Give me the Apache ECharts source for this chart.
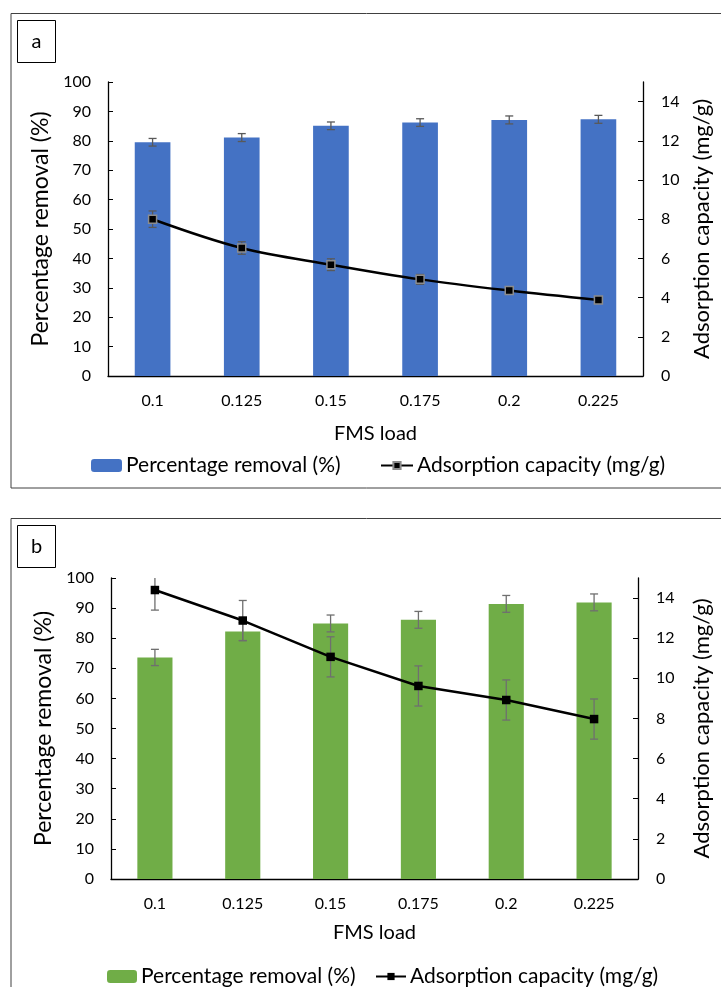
<!DOCTYPE html>
<html>
<head>
<meta charset="utf-8">
<script src="https://cdn.jsdelivr.net/npm/echarts@6/dist/echarts.min.js"></script>
<style>
  html, body { margin: 0; padding: 0; background: #fff; }
  #main { width: 721px; height: 987px; }
</style>
</head>
<body>
<div id="main"></div>
<script>
// FMS load categories
const categories = ['0.1', '0.125', '0.15', '0.175', '0.2', '0.225'];

// panel a
const removalA = [79.5, 81.1, 85.1, 86.2, 87.1, 87.3];
const removalErrA = [1.3, 1.35, 1.3, 1.3, 1.35, 1.35];
const capacityA = [8.0, 6.53, 5.68, 4.93, 4.36, 3.88];
const capacityErrA = [0.42, 0.32, 0.3, 0.25, 0.16, 0.12];

// panel b
const removalB = [73.6, 82.2, 84.9, 86.1, 91.4, 91.9];
const removalErrB = [2.7, 3.0, 2.8, 2.8, 2.8, 2.8];
const capacityB = [14.4, 12.88, 11.07, 9.62, 8.92, 7.97];
const capacityErrB = [1.0, 1.0, 1.0, 1.0, 1.0, 1.0];

const leftTicks = [0, 10, 20, 30, 40, 50, 60, 70, 80, 90, 100];
const rightTicks = [0, 2, 4, 6, 8, 10, 12, 14];

const FONT = 'Lato';
const names = {
  barA: 'Percentage removal (%)', lineA: 'Adsorption capacity (mg/g)',
  barB: 'Percentage removal (%)', lineB: 'Adsorption capacity (mg/g)'
};

function errData(vals, errs) {
  return vals.map((v, i) => [i, v - errs[i], v + errs[i]]);
}

function errRender(color) {
  return function (params, api) {
    const i = api.value(0);
    const lo = api.coord([i, api.value(1)]);
    const hi = api.coord([i, api.value(2)]);
    const w = 4;
    const st = { stroke: color, lineWidth: 1.3 };
    return {
      type: 'group',
      children: [
        { type: 'line', shape: { x1: hi[0], y1: hi[1], x2: lo[0], y2: lo[1] }, style: st },
        { type: 'line', shape: { x1: hi[0] - w, y1: hi[1], x2: hi[0] + w, y2: hi[1] }, style: st },
        { type: 'line', shape: { x1: lo[0] - w, y1: lo[1], x2: lo[0] + w, y2: lo[1] }, style: st }
      ]
    };
  };
}

function xAxisFor(gi, gap) {
  return {
    type: 'category', gridIndex: gi, data: categories,
    name: 'FMS load', nameLocation: 'middle', nameGap: gap,
    nameTextStyle: { fontFamily: FONT, fontSize: 20, color: '#000' },
    axisLine: { lineStyle: { color: '#000', width: 1.3 } },
    axisTick: { inside: true, length: 5, alignWithLabel: true, lineStyle: { color: '#000' } },
    axisLabel: { fontFamily: FONT, fontSize: 16, color: '#000', margin: 17 }
  };
}

function leftAxis(gi, gap) {
  return {
    type: 'value', gridIndex: gi, min: 0, max: 100, interval: 10,
    name: 'Percentage removal (%)', nameLocation: 'middle', nameGap: gap, nameRotate: 90,
    nameTextStyle: { fontFamily: FONT, fontSize: 23, color: '#000' },
    axisLine: { show: true, lineStyle: { color: '#000', width: 1.3 } },
    axisTick: { show: true, inside: true, length: 5, customValues: leftTicks, lineStyle: { color: '#000' } },
    axisLabel: { fontFamily: FONT, fontSize: 16, color: '#000', margin: 17, customValues: leftTicks },
    splitLine: { show: false }
  };
}

function rightAxis(gi, gap) {
  return {
    type: 'value', gridIndex: gi, position: 'right', min: 0, max: 15,
    name: 'Adsorption capacity (mg/g)', nameLocation: 'middle', nameGap: gap, nameRotate: 90,
    nameTextStyle: { fontFamily: FONT, fontSize: 22, color: '#000' },
    axisLine: { show: true, lineStyle: { color: '#000', width: 1.3 } },
    axisTick: { show: true, inside: true, length: 5, customValues: rightTicks, lineStyle: { color: '#000' } },
    axisLabel: { fontFamily: FONT, fontSize: 16, color: '#000', margin: 18, customValues: rightTicks },
    splitLine: { show: false }
  };
}

function legendFor(name, left, top, w, h) {
  return {
    data: [name], left: left, top: top, padding: 0,
    itemWidth: w, itemHeight: h, itemGap: 0, selectedMode: false,
    formatter: n => names[n],
    textStyle: { fontFamily: FONT, fontSize: 21, color: '#000', padding: [0, 0, 0, -1] }
  };
}

const option = {
  animation: false,
  backgroundColor: '#fff',
  textStyle: { fontFamily: FONT },
  grid: [
    { left: 108, right: 76, top: 82, height: 294 },
    { left: 111, right: 81, top: 578, height: 301 }
  ],
  xAxis: [xAxisFor(0, 48), xAxisFor(1, 44)],
  yAxis: [leftAxis(0, 44), rightAxis(0, 48), leftAxis(1, 46), rightAxis(1, 53)],
  legend: [
    legendFor('barA', 91, 455, 31, 13),
    legendFor('lineA', 380, 455, 32, 9),
    legendFor('barB', 107, 966, 30, 13),
    legendFor('lineB', 375, 966, 30, 9)
  ],
  graphic: [
    { type: 'rect', shape: { x: 11, y: 13.5, width: 720, height: 474.5 },
      style: { fill: 'none', stroke: '#404040', lineWidth: 1 }, silent: true },
    { type: 'rect', shape: { x: 17.5, y: 20.5, width: 38, height: 42 },
      style: { fill: '#fff', stroke: '#000', lineWidth: 1 }, silent: true },
    { type: 'text', x: 36.5, y: 41.5,
      style: { text: 'a', fontFamily: FONT, fontSize: 20, fill: '#000', align: 'center', verticalAlign: 'middle' } },
    { type: 'rect', shape: { x: 11, y: 518.5, width: 720, height: 480 },
      style: { fill: 'none', stroke: '#404040', lineWidth: 1 }, silent: true },
    { type: 'rect', shape: { x: 17.5, y: 525.5, width: 38, height: 42 },
      style: { fill: '#fff', stroke: '#000', lineWidth: 1 }, silent: true },
    { type: 'text', x: 36.5, y: 546.5,
      style: { text: 'b', fontFamily: FONT, fontSize: 20, fill: '#000', align: 'center', verticalAlign: 'middle' } }
  ],
  series: [
    {
      name: 'barA', type: 'bar', xAxisIndex: 0, yAxisIndex: 0, data: removalA,
      barWidth: '40%', itemStyle: { color: '#4472C4' }, z: 2
    },
    {
      type: 'custom', xAxisIndex: 0, yAxisIndex: 0, clip: true, z: 3,
      renderItem: errRender('#595959'), data: errData(removalA, removalErrA)
    },
    {
      name: 'lineA', type: 'line', xAxisIndex: 0, yAxisIndex: 1, data: capacityA,
      smooth: 0.35, symbol: 'rect', symbolSize: 8,
      lineStyle: { color: '#000', width: 2.5 },
      itemStyle: { color: '#000', borderColor: '#8c8c8c', borderWidth: 1.5 }, z: 4
    },
    {
      type: 'custom', xAxisIndex: 0, yAxisIndex: 1, clip: true, z: 3,
      renderItem: errRender('#595959'), data: errData(capacityA, capacityErrA)
    },
    {
      name: 'barB', type: 'bar', xAxisIndex: 1, yAxisIndex: 2, data: removalB,
      barWidth: '40%', itemStyle: { color: '#70AD47' }, z: 2
    },
    {
      type: 'custom', xAxisIndex: 1, yAxisIndex: 2, clip: true, z: 3,
      renderItem: errRender('#6f6f6f'), data: errData(removalB, removalErrB)
    },
    {
      name: 'lineB', type: 'line', xAxisIndex: 1, yAxisIndex: 3, data: capacityB,
      symbol: 'rect', symbolSize: 8.5,
      lineStyle: { color: '#000', width: 2.5 },
      itemStyle: { color: '#000' }, z: 4
    },
    {
      type: 'custom', xAxisIndex: 1, yAxisIndex: 3, clip: true, z: 3,
      renderItem: errRender('#6f6f6f'), data: errData(capacityB, capacityErrB)
    }
  ]
};

const chart = echarts.init(document.getElementById('main'));
chart.setOption(option);
</script>
</body>
</html>
